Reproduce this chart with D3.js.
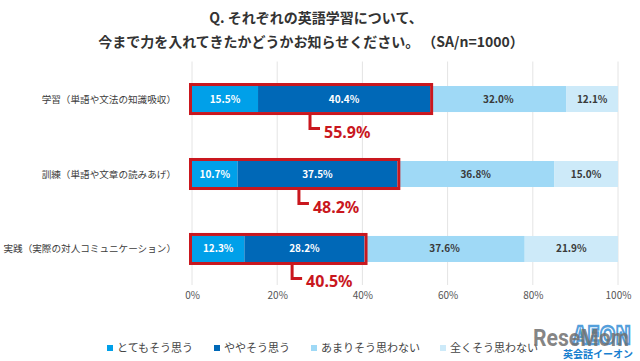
<!DOCTYPE html>
<html><head><meta charset="utf-8">
<script src="https://cdn.jsdelivr.net/npm/d3@7"></script>
<style>
html,body{margin:0;padding:0;background:#fff;}
svg{display:block;font-family:"Noto Sans CJK JP","Noto Sans",sans-serif;}
</style></head>
<body>
<svg id="chart" width="640" height="361"></svg>
<script>
const titleLines = ["Q. それぞれの英語学習について、", "今まで力を入れてきたかどうかお知らせください。 （SA/n=1000）"];
const categories = ["学習（単語や文法の知識吸収）", "訓練（単語や文章の読みあげ）", "実践（実際の対人コミュニケーション）"];
const seriesNames = ["とてもそう思う", "ややそう思う", "あまりそう思わない", "全くそう思わない"];
const seriesColors = ["#00a0e9", "#0068b7", "#9fd9f6", "#cdeaf9"];
const veryMuch = [15.5, 10.7, 12.3];
const somewhat = [40.4, 37.5, 28.2];
const notMuch = [32.0, 36.8, 37.6];
const notAtAll = [12.1, 15.0, 21.9];
const positiveTotals = [55.9, 48.2, 40.5];
const calloutAt = [27.7, 25.1, 23.5];
const tickValues = [0, 20, 40, 60, 80, 100];

const series = [veryMuch, somewhat, notMuch, notAtAll];
const svg = d3.select("#chart");
const x = d3.scaleLinear().domain([0, 100]).range([192, 618]);
const y = d3.scaleBand().domain(categories).range([61.5, 286.5]).paddingInner(0.653).paddingOuter(0.327);
const red = "#c9171e";

// title
svg.selectAll("text.title").data(titleLines).join("text")
  .attr("class", "title")
  .attr("x", (d, i) => i ? 311 : 316).attr("y", (d, i) => 23 + i * 24)
  .attr("text-anchor", "middle")
  .attr("font-size", 14).attr("font-weight", "bold").attr("fill", "#333")
  .text(d => d);

// gridlines
svg.append("g").selectAll("line").data(tickValues).join("line")
  .attr("x1", d => x(d)).attr("x2", d => x(d))
  .attr("y1", 61.5).attr("y2", 285)
  .attr("stroke", "#e4e4e4").attr("stroke-width", 1);

// axis labels
const ax = svg.append("g").attr("transform", "translate(0,292)")
  .call(d3.axisBottom(x).tickValues(tickValues).tickSize(0).tickPadding(0).tickFormat(d => d + "%"));
ax.select(".domain").remove();
ax.selectAll("text").attr("font-size", 10).attr("fill", "#555")
  .attr("font-family", '"Noto Sans CJK JP","Noto Sans",sans-serif');

// stacked data
const rows = categories.map((c, i) => {
  let acc = 0;
  return series.map((s, k) => {
    const seg = { cat: c, k, v: s[i], x0: acc, x1: acc + s[i] };
    acc += s[i];
    return seg;
  });
});

const rowG = svg.append("g").selectAll("g").data(rows).join("g");
rowG.selectAll("rect").data(d => d).join("rect")
  .attr("x", d => x(d.x0)).attr("width", d => x(d.x1) - x(d.x0))
  .attr("y", d => y(d.cat)).attr("height", y.bandwidth())
  .attr("fill", d => seriesColors[d.k]);
rowG.selectAll("text").data(d => d).join("text")
  .attr("x", d => (x(d.x0) + x(d.x1)) / 2)
  .attr("y", d => y(d.cat) + y.bandwidth() / 2 + 3.5)
  .attr("text-anchor", "middle")
  .attr("font-size", 10).attr("font-weight", 600)
  .attr("fill", d => d.k < 2 ? "#fff" : "#3a3a3a")
  .text(d => d.v.toFixed(1) + "%");

// category labels
svg.append("g").selectAll("text").data(categories).join("text")
  .attr("x", 176).attr("y", d => y(d) + y.bandwidth() / 2 + 3.5)
  .attr("text-anchor", "end").attr("font-size", 9.6).attr("fill", "#3c3c3c")
  .text(d => d);

// red highlight boxes and callouts
const ann = svg.append("g").selectAll("g").data(categories).join("g");
ann.append("rect")
  .attr("x", x(0) - 1.5).attr("y", d => y(d) - 1.5)
  .attr("width", (d, i) => x(positiveTotals[i]) - x(0) + 3)
  .attr("height", y.bandwidth() + 3)
  .attr("fill", "none").attr("stroke", red).attr("stroke-width", 3);
ann.append("path")
  .attr("d", (d, i) => {
    const cx = x(calloutAt[i]);
    const y0 = y(d) + y.bandwidth() + 3;
    return `M${cx},${y0}V${y0 + 13.5}H${cx + 10}`;
  })
  .attr("fill", "none").attr("stroke", red).attr("stroke-width", 3);
ann.append("text")
  .attr("x", (d, i) => x(calloutAt[i]) + 14)
  .attr("y", d => y(d) + y.bandwidth() / 2 + 38.5)
  .attr("font-size", 16).attr("font-weight", "bold").attr("fill", red)
  .attr("font-family", '"Noto Sans","Noto Sans CJK JP",sans-serif')
  .text((d, i) => positiveTotals[i].toFixed(1) + "%");

// legend
const legendX = [107, 214, 311, 440];
const lg = svg.append("g").selectAll("g").data(seriesNames).join("g")
  .attr("transform", (d, i) => `translate(${legendX[i]},348)`);
lg.append("rect").attr("x", 0).attr("y", -3).attr("width", 6).attr("height", 6)
  .attr("fill", (d, i) => seriesColors[i]);
lg.append("text").attr("x", 10).attr("y", 4).attr("font-size", 11).attr("fill", "#444")
  .text(d => d);

// watermark
svg.append("text").attr("x", 602).attr("y", 344).attr("text-anchor", "middle").attr("font-size", 24).attr("font-weight", "bold")
  .attr("fill", "none").attr("stroke", "#1a7fcf").attr("stroke-width", 2.5).attr("stroke-opacity", 0.75)
  .attr("font-family", '"DejaVu Sans",sans-serif').attr("textLength", 58).attr("lengthAdjust", "spacingAndGlyphs").text("AEON");
svg.append("text").attr("x", 533).attr("y", 346).attr("font-size", 24).attr("font-weight", "bold")
  .attr("fill", "#6f6f6f").attr("fill-opacity", 0.85).attr("font-family", '"Liberation Sans Narrow","Roboto",sans-serif')
  .attr("textLength", 96).attr("lengthAdjust", "spacingAndGlyphs").text("ReseMom");
svg.append("text").attr("x", 598).attr("y", 358).attr("text-anchor", "middle").attr("font-size", 10).attr("font-weight", "bold")
  .attr("fill", "#1a7fcf").text("英会話イーオン");
</script>
</body></html>
